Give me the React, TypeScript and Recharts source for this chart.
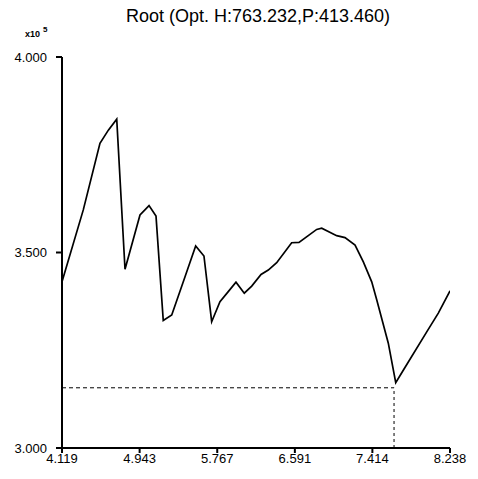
import { LineChart, Line, XAxis, YAxis, ReferenceLine, Customized } from 'recharts';

// values (x: H, y: ×10^5)
const hValues = [
  4.119, 4.345, 4.522, 4.611, 4.700, 4.788, 4.947, 5.043, 5.117, 5.194,
  5.284, 5.425, 5.538, 5.626, 5.708, 5.796, 5.884, 5.966, 6.054, 6.133,
  6.232, 6.309, 6.398, 6.557, 6.635, 6.744, 6.823, 6.876, 7.035, 7.123,
  7.230, 7.318, 7.407, 7.460, 7.583, 7.662, 7.742, 7.991, 8.114, 8.238,
];
const pValues = [
  3.425, 3.609, 3.779, 3.813, 3.841, 3.457, 3.596, 3.620, 3.593, 3.326,
  3.340, 3.438, 3.517, 3.491, 3.323, 3.374, 3.400, 3.424, 3.396, 3.414,
  3.444, 3.455, 3.474, 3.525, 3.526, 3.545, 3.559, 3.562, 3.543, 3.538,
  3.519, 3.476, 3.425, 3.379, 3.268, 3.167, 3.199, 3.297, 3.345, 3.402,
];
const xTicks = [4.119, 4.943, 5.767, 6.591, 7.414, 8.238];
const yTicks = [3.0, 3.5, 4.0];
const optH = 7.644;
const optP = 3.154;

const data = hValues.map((h, i) => ({ h, p: pValues[i] }));

const FONT = '"Liberation Sans", Arial, sans-serif';

export default function App() {
  return (
    <div style={{ position: 'absolute', left: 0, top: 0, background: '#fff' }}>
      <LineChart
        width={478}
        height={479}
        data={data}
        margin={{ top: 57, right: 28, left: 0, bottom: 0 }}
      >
        <XAxis
          dataKey="h"
          type="number"
          domain={[4.119, 8.238]}
          ticks={xTicks}
          allowDataOverflow
          height={31}
          tickSize={5}
          tickMargin={1}
          stroke="#000"
          strokeWidth={2}
          tick={{ fill: '#000', fontSize: 13, fontFamily: FONT }}
          tickFormatter={(v: number) => v.toFixed(3)}
        />
        <YAxis
          type="number"
          domain={[3, 4]}
          ticks={yTicks}
          width={62}
          tickSize={6}
          tickMargin={9}
          stroke="#000"
          strokeWidth={2}
          tick={{ fill: '#000', fontSize: 13, fontFamily: FONT }}
          tickFormatter={(v: number) => v.toFixed(3)}
        />
        <ReferenceLine
          segment={[{ x: 4.119, y: optP }, { x: optH, y: optP }]}
          stroke="#000"
          strokeWidth={1}
          strokeDasharray="4 3"
        />
        <ReferenceLine
          segment={[{ x: optH, y: 3 }, { x: optH, y: optP }]}
          stroke="#000"
          strokeWidth={1}
          strokeDasharray="3 3"
        />
        <Line
          dataKey="p"
          type="linear"
          stroke="#000"
          strokeWidth={1.7}
          dot={false}
          isAnimationActive={false}
        />
        <Customized
          component={() => (
            <g fontFamily={FONT} fill="#000">
              <text x={258} y={22} fontSize={18} textAnchor="middle">
                Root (Opt. H:763.232,P:413.460)
              </text>
              <text x={25} y={37} fontSize={9} fontWeight="bold">x10</text>
              <text x={43} y={32} fontSize={8} fontWeight="bold">5</text>
            </g>
          )}
        />
      </LineChart>
    </div>
  );
}
